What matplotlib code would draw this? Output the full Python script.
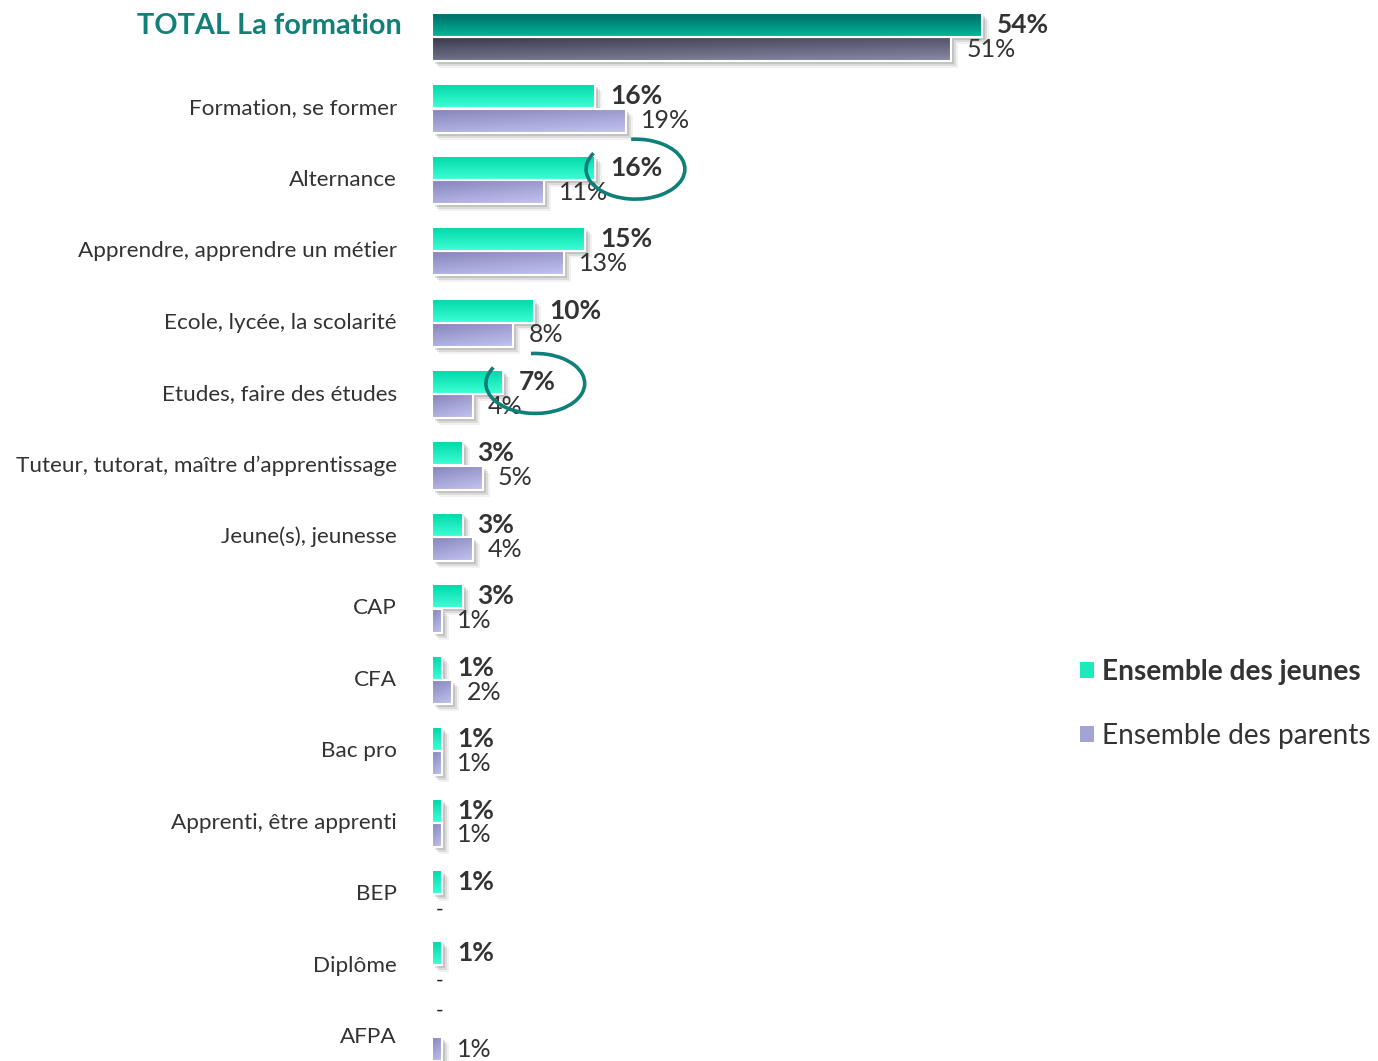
import numpy as np
import matplotlib
matplotlib.use("Agg")
import matplotlib.pyplot as plt
import matplotlib.transforms as mtransforms
from matplotlib.patches import Arc, Patch
from matplotlib.colors import to_rgb

plt.rcParams['font.family'] = ['Lato', 'DejaVu Sans']

categories = ["TOTAL La formation", "Formation, se former", "Alternance",
              "Apprendre, apprendre un métier", "Ecole, lycée, la scolarité",
              "Etudes, faire des études", "Tuteur, tutorat, maître d’apprentissage",
              "Jeune(s), jeunesse", "CAP", "CFA", "Bac pro",
              "Apprenti, être apprenti", "BEP", "Diplôme", "AFPA"]
jeunes = [54, 16, 16, 15, 10, 7, 3, 3, 3, 1, 1, 1, 1, 1, None]
parents = [51, 19, 11, 13, 8, 4, 5, 4, 1, 2, 1, 1, None, None, 1]
series_names = ["Ensemble des jeunes", "Ensemble des parents"]
circled = [2, 5]  # rows whose "jeunes" value is circled

W, H = 1378, 1061
fig = plt.figure(figsize=(W / 100, H / 100), dpi=100)
# axes: x from 432px to 1070px, full height
ax = fig.add_axes([432 / W, 0, (1070 - 432) / W, 1])
px_per_pct = 10.185
row_px = 71.43
xmax = (1070 - 432) / px_per_pct
ymin_row = -37 / row_px
ymax_row = (H - 37) / row_px

bh = 0.335
off = 0.17
text_col = "#333333"


def grad_img(c_top, c_bot, c_left_dark=0.0, n=32):
    a = np.array(to_rgb(c_top))
    b = np.array(to_rgb(c_bot))
    v = np.linspace(0, 1, n)[:, None]
    h = np.linspace(0, 1, n)[None, :]
    t = np.clip(v * (1 - c_left_dark) + h * c_left_dark, 0, 1)
    return a[None, None, :] * (1 - t[..., None]) + b[None, None, :] * t[..., None]


def draw_bars(vals, ypos, colors_total, colors_other, left_dark):
    for i, v in enumerate(vals):
        if v is None:
            continue
        y0 = ypos[i] - bh / 2
        cols = colors_total if i == 0 else colors_other
        # soft shadow
        for dx, dy, al in [(3, -3, 0.18), (5, -5, 0.14), (7, -7, 0.08)]:
            tr = mtransforms.offset_copy(ax.transData, fig=fig, x=dx, y=dy, units='dots')
            ax.barh(ypos[i], v, height=bh, color="#555555", alpha=al,
                    transform=tr, zorder=1, linewidth=0)
        img = grad_img(cols[0], cols[1], left_dark)
        ax.imshow(img, extent=(0, v, y0 + bh, y0), origin='upper',
                  aspect='auto', zorder=2, interpolation='bilinear')
        ax.barh(ypos[i], v, height=bh, facecolor='none', edgecolor='white',
                linewidth=1.5, zorder=3)


ypos = np.arange(len(categories))
yj = ypos - off
yp = ypos + off

draw_bars(jeunes, yj, ("#006a68", "#00b996"), ("#00d8a8", "#3dffd6"), 0.0)
draw_bars(parents, yp, ("#3a3a4e", "#8a8aa8"), ("#8585bb", "#c4c4f2"), 0.3)

for i in range(len(categories)):
    for vals, yy, wt, fs, dash_dy in [(jeunes, yj, 'bold', 19, 14),
                                      (parents, yp, 'normal', 18, -3)]:
        v = vals[i]
        if v is None:
            ax.annotate("-", (0, yy[i]), xytext=(4, dash_dy), textcoords='offset pixels',
                        ha='left', va='center', fontsize=15, color="#222222")
        else:
            ax.annotate(f"{v}%", (v, yy[i]), xytext=(15, 0),
                        textcoords='offset pixels', ha='left', va='center',
                        fontsize=fs, fontweight=wt, color=text_col, zorder=5)

# category labels
for i, c in enumerate(categories):
    if i == 0:
        ax.annotate(c, (0, ypos[i] - 0.16), xytext=(-30, 0), textcoords='offset pixels',
                    ha='right', va='center', fontsize=20.8, fontweight='bold',
                    color="#138078", annotation_clip=False)
    else:
        ax.annotate(c, (0, ypos[i]), xytext=(-35, 0), textcoords='offset pixels',
                    ha='right', va='center', fontsize=16.2, color=text_col,
                    annotation_clip=False)


# circles around highlighted values (gap at upper-left, as drawn by hand)
def geom_angle(t_deg, a, b):
    t = np.radians(t_deg)
    return np.degrees(np.arctan2(b * np.sin(t), a * np.cos(t))) % 360


ew, eh = 9.7, 0.84
for i in circled:
    lbl = f"{jeunes[i]}%"
    tr = mtransforms.offset_copy(ax.transData, fig=fig,
                                 x=15 + 8.5 * len(lbl), y=0, units='dots')
    th1 = geom_angle(265, ew / 2, eh / 2)
    th2 = geom_angle(212, ew / 2, eh / 2) + 360
    arc = Arc((jeunes[i], yj[i] + 0.02), width=ew, height=eh, theta1=th1,
              theta2=th2, color="#0f7f7a", linewidth=2.6, zorder=6, transform=tr)
    ax.add_patch(arc)

ax.set_xlim(0, xmax)
ax.set_ylim(ymax_row, ymin_row)
ax.axis('off')

handles = [Patch(facecolor="#1ee8bd", edgecolor='none'),
           Patch(facecolor="#a3a3d6", edgecolor='none')]
leg = fig.legend(handles, series_names, loc='center left',
                 bbox_to_anchor=(1080 / W, 1 - 704 / H), frameon=False,
                 borderpad=0, borderaxespad=0,
                 fontsize=20.2, handlelength=0.5, handleheight=0.5,
                 handletextpad=0.3, labelspacing=1.35, labelcolor=text_col)
leg.get_texts()[0].set_fontweight('bold')

fig.savefig("out.png", dpi=100, facecolor='white')
